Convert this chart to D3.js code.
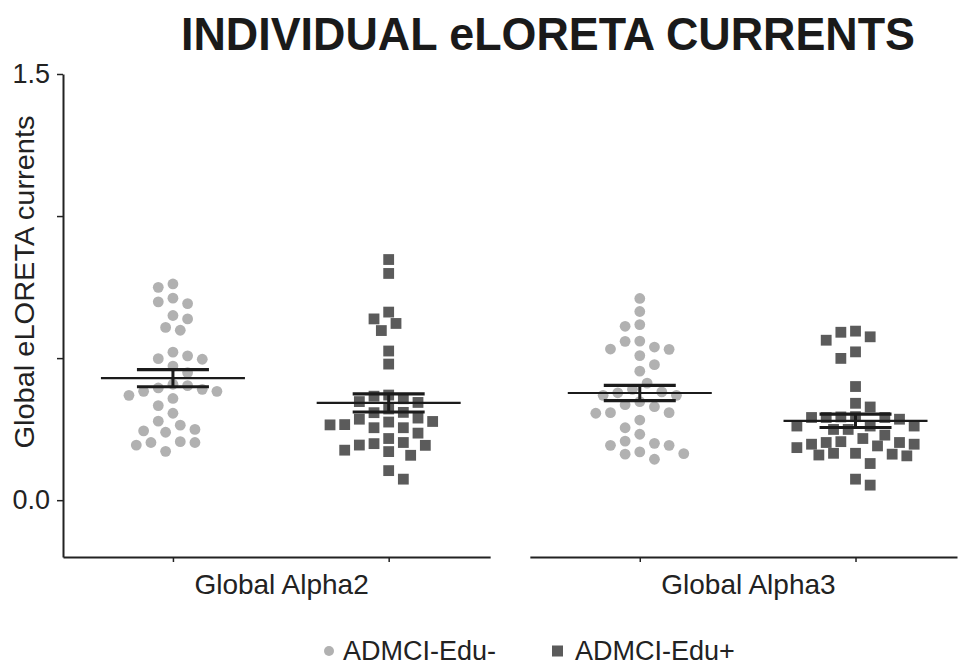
<!DOCTYPE html>
<html>
<head>
<meta charset="utf-8">
<script src="https://cdn.jsdelivr.net/npm/d3@7"></script>
<style>
  html, body { margin: 0; padding: 0; background: #fff; }
  svg { display: block; }
  text { font-family: "Liberation Sans", Arial, Helvetica, sans-serif; fill: #222; }
</style>
</head>
<body>
<svg id="chart" width="964" height="666"></svg>
<script>
// ---------------- data ----------------
const title = "INDIVIDUAL eLORETA CURRENTS";
const yTitle = "Global eLORETA currents";
const categories = ["Global Alpha2", "Global Alpha3"];
const seriesNames = ["ADMCI-Edu-", "ADMCI-Edu+"];
const yTicks = [0, 0.5, 1.0, 1.5];
const yTickLabels = ["0.0", "", "", "1.5"];

const alpha2EduMinus = [0.761, 0.749, 0.711, 0.692, 0.698, 0.650, 0.638, 0.598, 0.608, 0.521, 0.496, 0.508,
  0.498, 0.472, 0.449, 0.408, 0.395, 0.383, 0.369, 0.358, 0.383, 0.390, 0.403, 0.333, 0.306, 0.264,
  0.244, 0.239, 0.249, 0.278, 0.206, 0.203, 0.194, 0.203, 0.172];
const alpha2EduPlus = [0.847, 0.798, 0.662, 0.638, 0.622, 0.597, 0.525, 0.479, 0.370, 0.357, 0.344, 0.347,
  0.366, 0.321, 0.309, 0.308, 0.289, 0.265, 0.255, 0.277, 0.275, 0.285, 0.236, 0.255, 0.266, 0.217,
  0.199, 0.193, 0.171, 0.158, 0.176, 0.194, 0.203, 0.104, 0.074];
const alpha3EduMinus = [0.710, 0.664, 0.618, 0.612, 0.559, 0.532, 0.509, 0.531, 0.539, 0.560, 0.477, 0.454,
  0.412, 0.390, 0.378, 0.369, 0.369, 0.381, 0.336, 0.347, 0.329, 0.308, 0.306, 0.308, 0.282, 0.255,
  0.232, 0.208, 0.200, 0.193, 0.193, 0.164, 0.144, 0.162, 0.170];
const alpha3EduPlus = [0.595, 0.575, 0.563, 0.591, 0.522, 0.499, 0.400, 0.341, 0.328, 0.293, 0.285, 0.291,
  0.291, 0.291, 0.294, 0.261, 0.249, 0.249, 0.261, 0.261, 0.229, 0.206, 0.203, 0.197, 0.191, 0.197,
  0.203, 0.217, 0.165, 0.162, 0.156, 0.185, 0.159, 0.165, 0.129, 0.074, 0.053];

const groups = [
  { cat: categories[0], series: seriesNames[0], values: alpha2EduMinus },
  { cat: categories[0], series: seriesNames[1], values: alpha2EduPlus },
  { cat: categories[1], series: seriesNames[0], values: alpha3EduMinus },
  { cat: categories[1], series: seriesNames[1], values: alpha3EduPlus }
];

// ---------------- styles ----------------
const colors = { "ADMCI-Edu-": "#b1b1b1", "ADMCI-Edu+": "#5b5b5b" };
const axisColor = "#222";
const barColor = "#1b1b1b";
const pointR = 5.4;
const squareS = 10.8;

// ---------------- scales ----------------
const svg = d3.select("#chart");
const y = d3.scaleLinear().domain([-0.2, 1.5]).range([557, 74]);
const x0 = d3.scaleBand().domain(categories).range([63, 957]).paddingInner(0.085).paddingOuter(0);
const x1 = d3.scalePoint().domain(seriesNames).range([0, x0.bandwidth()]).padding(0.49).align(0.52);

// ---------------- title ----------------
svg.append("text")
  .attr("x", 181).attr("y", 50)
  .attr("textLength", 734).attr("lengthAdjust", "spacingAndGlyphs")
  .style("font-size", "46px").style("font-weight", "bold").style("fill", "#1a1a1a")
  .text(title);

// ---------------- y axis ----------------
const yAxis = d3.axisLeft(y).tickValues(yTicks).tickSize(6).tickSizeOuter(0).tickPadding(7)
  .tickFormat((d, i) => yTickLabels[i]);
const gy = svg.append("g").attr("transform", "translate(63,0)").call(yAxis);
gy.select(".domain").attr("stroke", axisColor).attr("stroke-width", 2);
gy.selectAll(".tick line").attr("stroke", axisColor).attr("stroke-width", 1.5);
gy.selectAll(".tick text").style("font-size", "27px").style("fill", "#222")
  .attr("font-family", "Liberation Sans, Arial, sans-serif");

svg.append("text")
  .attr("transform", "translate(34,282) rotate(-90)")
  .attr("text-anchor", "middle")
  .attr("textLength", 333).attr("lengthAdjust", "spacingAndGlyphs")
  .style("font-size", "28px")
  .text(yTitle);

// ---------------- x axis (one segment per category) ----------------
categories.forEach(cat => {
  const g = svg.append("g").attr("transform", `translate(${x0(cat)},557)`)
    .call(d3.axisBottom(x1).tickSize(5).tickSizeOuter(0).tickFormat(""));
  g.select(".domain").attr("stroke", axisColor).attr("stroke-width", 2);
  g.selectAll(".tick line").attr("stroke", axisColor).attr("stroke-width", 1.5);
  svg.append("text")
    .attr("x", x0(cat) + x0.bandwidth() / 2 + 5).attr("y", 594)
    .attr("text-anchor", "middle")
    .style("font-size", "28px")
    .text(cat);
});

// ---------------- beeswarm layout ----------------
function swarm(values, cx) {
  const grid = 7.33, minD = 13;
  const pts = values.map(v => ({ v, py: y(v) })).sort((a, b) => a.py - b.py);
  const placed = [];
  pts.forEach((p, i) => {
    const sgn = i % 2 === 0 ? 1 : -1;
    for (let k = 0; k < 60; k++) {
      const off = k === 0 ? 0 : (Math.ceil(k / 2) * grid * (k % 2 === 1 ? sgn : -sgn));
      const px = cx + off;
      const ok = placed.every(q => Math.hypot(q.px - px, q.py - p.py) >= minD);
      if (ok) { p.px = px; placed.push(p); break; }
    }
  });
  return placed;
}

// ---------------- points ----------------
groups.forEach(gr => {
  const cx = x0(gr.cat) + x1(gr.series);
  const pts = swarm(gr.values, cx);
  const g = svg.append("g");
  if (gr.series === seriesNames[0]) {
    g.selectAll("circle").data(pts).join("circle")
      .attr("cx", d => d.px).attr("cy", d => d.py).attr("r", pointR)
      .attr("fill", colors[gr.series]);
  } else {
    g.selectAll("rect").data(pts).join("rect")
      .attr("x", d => d.px - squareS / 2).attr("y", d => d.py - squareS / 2)
      .attr("width", squareS).attr("height", squareS)
      .attr("fill", colors[gr.series]);
  }
});

// ---------------- mean ± SEM ----------------
groups.forEach(gr => {
  const cx = x0(gr.cat) + x1(gr.series);
  const m = d3.mean(gr.values);
  const sem = d3.deviation(gr.values) / Math.sqrt(gr.values.length);
  const g = svg.append("g").attr("stroke", barColor);
  g.append("line").attr("x1", cx - 72).attr("x2", cx + 72).attr("y1", y(m)).attr("y2", y(m)).attr("stroke-width", 2.2);
  g.append("line").attr("x1", cx).attr("x2", cx).attr("y1", y(m + sem)).attr("y2", y(m - sem)).attr("stroke-width", 3);
  [m + sem, m - sem].forEach(v => {
    g.append("line").attr("x1", cx - 36).attr("x2", cx + 36).attr("y1", y(v)).attr("y2", y(v)).attr("stroke-width", 3.2);
  });
});

// ---------------- legend ----------------
const lg = svg.append("g");
lg.append("circle").attr("cx", 329).attr("cy", 651).attr("r", 5).attr("fill", colors[seriesNames[0]]);
lg.append("text").attr("x", 343).attr("y", 660).style("font-size", "27px").text(seriesNames[0]);
lg.append("rect").attr("x", 552).attr("y", 645.5).attr("width", 11).attr("height", 11).attr("fill", colors[seriesNames[1]]);
lg.append("text").attr("x", 575).attr("y", 660).style("font-size", "27px").text(seriesNames[1]);
</script>
</body>
</html>
